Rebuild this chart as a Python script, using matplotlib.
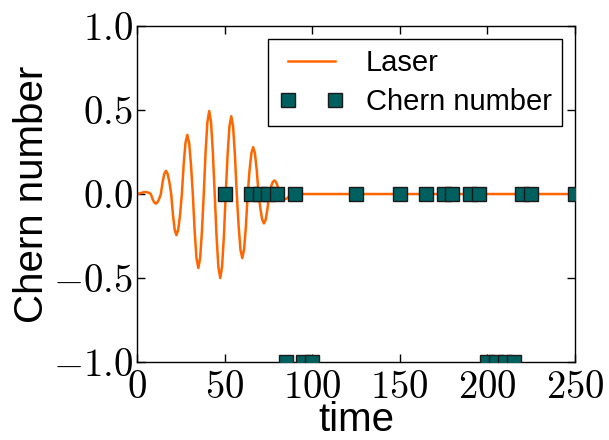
import matplotlib
matplotlib.use("Agg")
import matplotlib.pyplot as plt
from matplotlib.legend_handler import HandlerLine2D

# laser pulse (time, amplitude)
laser_t = [0, 1.3, 2.6, 3.9, 5.1,
           6.03, 6.97, 7.9, 8.83, 9.77, 10.7,
           11.67, 12.63, 13.6, 14.57, 15.53, 16.5,
           17.5, 18.5, 19.5, 20.5, 21.5, 22.5,
           23.53, 24.57, 25.6, 26.63, 27.67, 28.7,
           29.75, 30.8, 31.85, 32.9, 33.95, 35.0,
           36.03, 37.07, 38.1, 39.13, 40.17, 41.2,
           42.25, 43.3, 44.35, 45.4, 46.45, 47.5,
           48.55, 49.6, 50.65, 51.7, 52.75, 53.8,
           54.85, 55.9, 56.95, 58.0, 59.05, 60.1,
           61.13, 62.17, 63.2, 64.23, 65.27, 66.3,
           67.33, 68.37, 69.4, 70.43, 71.47, 72.5,
           73.48, 74.47, 75.45, 76.43, 77.42, 78.4,
           79.43, 80.47, 81.5, 82.53, 83.57, 84.6,
           85.63, 86.67, 87.7, 88.73, 89.77, 90.8,
           92.0, 93.0, 94.0, 250.0]
laser_y = [0.0, 0.003, 0.007, 0.011, 0.012,
           0.010, 0.006, 0.0, -0.029, -0.049, -0.057,
           -0.049, -0.029, 0.0, 0.069, 0.120, 0.138,
           0.120, 0.069, 0.0, -0.123, -0.212, -0.245,
           -0.212, -0.123, 0.0, 0.176, 0.305, 0.352,
           0.305, 0.176, 0.0, -0.220, -0.381, -0.440,
           -0.381, -0.220, 0.0, 0.247, 0.428, 0.494,
           0.428, 0.247, 0.0, -0.250, -0.433, -0.500,
           -0.433, -0.250, 0.0, 0.232, 0.401, 0.463,
           0.401, 0.232, 0.0, -0.190, -0.330, -0.381,
           -0.330, -0.190, 0.0, 0.140, 0.242, 0.279,
           0.242, 0.140, 0.0, -0.088, -0.152, -0.175,
           -0.152, -0.088, 0.0, 0.041, 0.070, 0.081,
           0.070, 0.041, 0.0, -0.015, -0.026, -0.030,
           -0.026, -0.015, 0.0, 0.004, 0.007, 0.008,
           0.006, 0.003, 0.0, 0.0]

# Chern number samples
chern_t = [50, 65, 70, 75, 80, 85, 90, 95, 100, 125, 150, 165, 175, 180,
           190, 195, 200, 205, 210, 215, 220, 225, 250]
chern_c = [0, 0, 0, 0, 0, -1, 0, -1, -1, 0, 0, 0, 0, 0,
           0, 0, -1, -1, -1, -1, 0, 0, 0]

xticks = [0, 50, 100, 150, 200, 250]
yticks = [-1.0, -0.5, 0.0, 0.5, 1.0]

plt.rcParams["mathtext.fontset"] = "cm"
plt.rcParams["font.family"] = ["Liberation Sans", "DejaVu Sans"]

fig = plt.figure(figsize=(6.09, 4.4), dpi=100)
ax = fig.add_axes([0.225, 0.177, 0.719, 0.764])

ax.plot(laser_t, laser_y, color="#ff6600", lw=1.8, label="Laser", zorder=2)
ax.plot(chern_t, chern_c, ls="none", marker="s", ms=10.5, mfc="#006060",
        mec="#1a1a1a", mew=1.0, label="Chern number", zorder=3)

ax.set_xlim(0, 250)
ax.set_ylim(-1.0, 1.0)
ax.set_xticks(xticks)
ax.set_xticklabels([f"${v}$" for v in xticks])
ax.set_yticks(yticks)
ax.set_yticklabels([f"${v:.1f}$" for v in yticks])
ax.tick_params(direction="in", top=True, right=True, length=6, width=1,
               labelsize=28)
ax.tick_params(axis="y", pad=3)
ax.tick_params(axis="x", pad=6)
for s in ax.spines.values():
    s.set_linewidth(1.0)

ax.set_xlabel("time", fontsize=29, labelpad=-4)
ax.set_ylabel("Chern number", fontsize=29, labelpad=1)

# old-style legend: two markers at the ends of the sample line
handler = HandlerLine2D(marker_pad=0, numpoints=2, xpad=0.34)
leg = ax.legend(loc="upper right", numpoints=2, fontsize=21, fancybox=False,
                framealpha=1, edgecolor="black", borderaxespad=0.45,
                borderpad=0.35, labelspacing=0.36,
                handlelength=1.95, handletextpad=1.05,
                handler_map={plt.Line2D: handler})
leg.get_frame().set_linewidth(1.0)

fig.savefig("out.png", dpi=100, facecolor="white")
